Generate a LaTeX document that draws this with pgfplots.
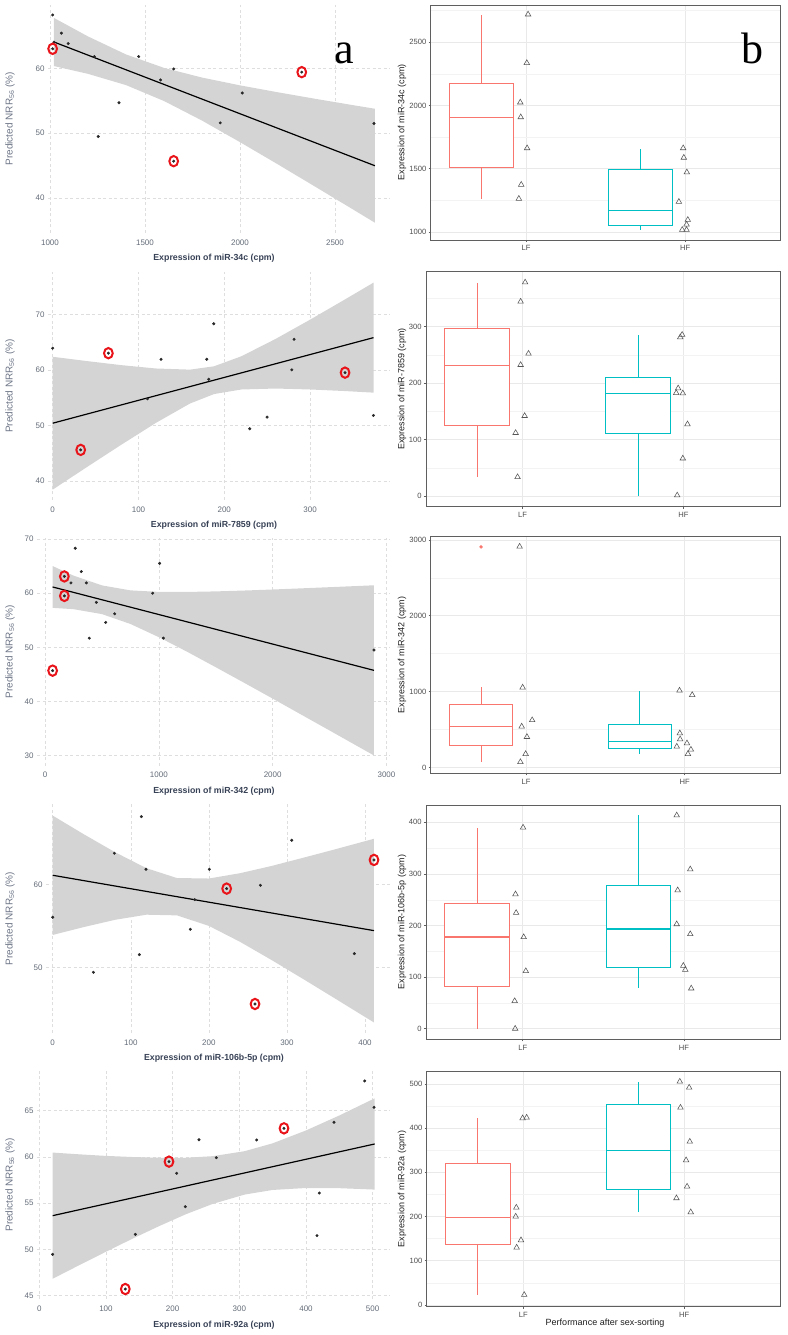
\documentclass[border=0pt]{standalone}
\usepackage{fontspec}
\setmainfont{Liberation Sans}
\newfontfamily\seriffont{Liberation Serif}
\usepackage{pgfplots}
\pgfplotsset{compat=1.18}
\definecolor{lfc}{HTML}{F8766D}
\definecolor{hfc}{HTML}{00BFC4}
\definecolor{ribbon}{RGB}{212,212,212}
\definecolor{lgrid}{RGB}{222,222,222}
\definecolor{ltick}{RGB}{100,108,120}
\definecolor{ltitle}{RGB}{55,65,85}
\definecolor{lylab}{RGB}{110,118,135}
\definecolor{dotc}{RGB}{40,40,40}
\definecolor{ringc}{RGB}{232,20,26}
\definecolor{frame}{RGB}{95,95,95}
\definecolor{rgrid}{RGB}{233,233,233}
\definecolor{rgridm}{RGB}{243,243,243}
\definecolor{rtick}{RGB}{77,77,77}
\definecolor{rtitle}{RGB}{30,30,30}
\definecolor{tric}{RGB}{85,85,85}

\pgfplotsset{
  base/.style={scale only axis, anchor=south west, clip=true,
    /pgf/number format/assume math mode=true,
    /pgf/number format/set thousands separator={},
    scaled ticks=false},
  leftp/.style={base,
    axis line style={draw=none}, tick style={draw=none}, major tick length=0pt,
    xmajorgrids, ymajorgrids,
    major grid style={draw=lgrid, line width=0.55pt, dash pattern=on 3pt off 2.5pt},
    tick label style={font=\fontsize{8}{9}\selectfont, text=ltick},
    xticklabel style={yshift=-3pt},
    xlabel style={font=\bfseries\fontsize{8.8}{10}\selectfont, text=ltitle, anchor=center, yshift=-25.5pt},
    ylabel style={font=\fontsize{10}{11}\selectfont, text=lylab, anchor=center},
    ylabel={Predicted NRR\textsubscript{56} (\%)},
  },
  rightp/.style={base,
    xmin=0.4, xmax=2.6, xtick={1,2}, xticklabels={LF,HF},
    axis line style={draw=frame, line width=0.6pt},
    tick style={draw=frame, line width=0.5pt},
    tick align=outside, major tick length=2.2pt, minor tick length=0pt,
    tick pos=left,
    xmajorgrids, ymajorgrids, yminorgrids,
    major grid style={draw=rgrid, line width=0.6pt},
    minor grid style={draw=rgridm, line width=0.35pt},
    tick label style={font=\fontsize{7.6}{9}\selectfont, text=rtick},
    yticklabel style={xshift=1.4pt},
    ylabel style={font=\fontsize{9}{10}\selectfont, text=rtitle, anchor=center},
  },
  ribbonp/.style={fill=ribbon, draw=none},
  linep/.style={black, line width=1.2pt},
  dotp/.style={only marks, mark=*, mark size=1.3pt, mark options={fill=dotc, draw=dotc}},
  ringp/.style={only marks, mark=o, mark size=5.2pt, mark options={draw=ringc, line width=2pt, xscale=0.84}},
  trip/.style={only marks, mark=triangle, mark size=3.2pt, mark options={draw=tric, line width=0.55pt, fill=none}},
}

% color, left, center, right, lo, q1, med, q3, hi
\newcommand{\gbox}[9]{%
  \addplot[#1, line width=0.75pt] coordinates {(#3,#5) (#3,#6)};
  \addplot[#1, line width=0.75pt] coordinates {(#3,#8) (#3,#9)};
  \addplot[#1, line width=0.75pt, fill=white] coordinates {(#2,#6) (#4,#6) (#4,#8) (#2,#8)} -- cycle;
  \addplot[#1, line width=1.3pt] coordinates {(#2,#7) (#4,#7)};
}

\begin{document}
\begin{tikzpicture}[x=1pt,y=1pt]
\useasboundingbox (0,0) rectangle (787,1335);

% ---------------- Row 1 ----------------
\begin{axis}[leftp, at={(48pt,1102pt)}, width=342pt, height=228.4pt,
  xmin=989.5, xmax=2789.5, ymin=34.65, ymax=69.8,
  xtick={1000,1500,2000,2500}, ytick={40,50,60},
  xlabel={Expression of miR-34c (cpm)},
  xlabel style={at={(axis description cs:0.4854,0)}},
  ylabel style={at={(axis description cs:-0.1111,0.5)}}]
\addplot[ribbonp] coordinates {(1020,67.76)(1200,64.90)(1400,62.13)(1600,60.06)(1800,58.57)(2000,57.37)(2200,56.30)(2400,55.28)(2600,54.30)(2710,53.77)
 (2710,36.23)(2600,38.18)(2400,41.70)(2200,45.20)(2000,48.63)(1800,51.95)(1600,54.96)(1400,57.41)(1200,59.14)(1020,60.34)} -- cycle;
\addplot[linep] coordinates {(1020,64.05)(2710,45.0)};
\addplot[dotp] coordinates {(1014,68.2)(1060,65.4)(1021,64.0)(1096,63.8)(1014,63.0)(1233,61.8)(1467,61.8)(1582,58.2)(1651,59.9)(1363,54.7)(1254,49.5)(1651,45.7)(1896,51.6)(2012,56.2)(2325,59.4)(2705,51.5)};
\addplot[ringp] coordinates {(1014,63.0)(1651,45.7)(2325,59.4)};
\end{axis}

\begin{axis}[rightp, at={(430.7pt,1095pt)}, width=350pt, height=235pt,
  ymin=935.5, ymax=2794.5, ytick={1000,1500,2000,2500}, minor ytick={1250,1750,2250,2750},
  ylabel={Expression of miR-34c (cpm)},
  ylabel style={at={(axis description cs:-0.0820,0.5)}}]
\gbox{lfc}{0.517}{0.717}{0.917}{1260}{1513}{1905}{2175}{2714}
\gbox{hfc}{1.517}{1.717}{1.917}{1016}{1051}{1170}{1495}{1656}
\addplot[trip] coordinates {(1.012,2720)(1.004,2336)(0.963,2024)(0.966,1907)(1.006,1662)(0.969,1373)(0.954,1262)};
\addplot[trip] coordinates {(1.987,1662)(1.991,1587)(2.010,1471)(1.960,1238)(2.016,1095)(2.008,1058)(1.981,1016)(2.008,1016)};
\end{axis}

% ---------------- Row 2 ----------------
\begin{axis}[leftp, at={(48pt,835.1pt)}, width=342pt, height=227.6pt,
  xmin=-5.5, xmax=393.2, ymin=36.6, ymax=77.56,
  xtick={0,100,200,300}, ytick={40,50,60,70},
  xlabel={Expression of miR-7859 (cpm)},
  xlabel style={at={(axis description cs:0.4854,0)}},
  ylabel style={at={(axis description cs:-0.1111,0.5)}}]
\addplot[ribbonp] coordinates {(0,62.35)(40,61.58)(80,60.85)(120,60.25)(160,60.04)(188,60.64)(220,62.45)(260,65.58)(300,69.03)(340,72.61)(374,75.70)
 (374,55.90)(340,56.19)(300,56.47)(260,56.64)(220,56.47)(188,55.64)(160,53.94)(120,50.43)(80,46.53)(40,42.52)(0,38.45)} -- cycle;
\addplot[linep] coordinates {(0,50.4)(374,65.8)};
\addplot[dotp] coordinates {(0,63.9)(64.9,63.0)(126.3,61.9)(179.6,61.9)(187.7,68.3)(181.9,58.3)(110.4,54.8)(32.6,45.6)(229.7,49.4)(249.9,51.5)(278.7,60.0)(281.4,65.5)(340.8,59.5)(373.9,51.8)};
\addplot[ringp] coordinates {(64.9,63.0)(32.6,45.6)(340.8,59.5)};
\end{axis}

\begin{axis}[rightp, at={(426pt,828.3pt)}, width=354pt, height=235pt,
  ymin=-18.9, ymax=396.9, ytick={0,100,200,300}, minor ytick={50,150,250,350},
  ylabel={Expression of miR-7859 (cpm)},
  ylabel style={at={(axis description cs:-0.0678,0.5)}}]
\gbox{lfc}{0.517}{0.717}{0.917}{34.1}{125.8}{231}{297}{376.4}
\gbox{hfc}{1.517}{1.717}{1.917}{0}{110.6}{181.8}{210.6}{284}
\addplot[trip] coordinates {(1.016,378)(0.988,344)(1.037,252)(0.988,232)(1.013,141.7)(0.957,111.7)(0.969,33.5)};
\addplot[trip] coordinates {(1.992,285.3)(1.980,281)(1.967,190.6)(1.955,182.3)(1.996,181.8)(2.025,127)(1.996,66.5)(1.961,1.2)};
\end{axis}

% ---------------- Row 3 ----------------
\begin{axis}[leftp, at={(37pt,569.2pt)}, width=353pt, height=227.9pt,
  xmin=-70.3, xmax=3030.8, ymin=28.13, ymax=70.21,
  xtick={0,1000,2000,3000}, ytick={30,40,50,60,70},
  xlabel={Expression of miR-342 (cpm)},
  xlabel style={at={(axis description cs:0.5014,0)}},
  ylabel style={at={(axis description cs:-0.0765,0.5)}}]
\addplot[ribbonp] coordinates {(67,65.01)(250,63.25)(500,61.44)(750,60.52)(1000,60.24)(1250,60.23)(1500,60.33)(1750,60.49)(2000,60.68)(2250,60.89)(2500,61.11)(2750,61.33)(2890,61.46)
 (2890,30.04)(2750,31.69)(2500,34.65)(2250,37.59)(2000,40.54)(1750,43.45)(1500,46.33)(1250,49.17)(1000,51.88)(750,54.32)(500,56.14)(250,57.05)(67,57.29)} -- cycle;
\addplot[linep] coordinates {(67,61.15)(2890,45.75)};
\addplot[dotp] coordinates {(266,68.3)(319,64.0)(170,63.1)(228,61.9)(363,61.9)(170,59.5)(451,58.3)(612,56.2)(533,54.6)(389,51.7)(67,45.7)(946,60.0)(1007,65.5)(1040,51.7)(2890,49.5)};
\addplot[ringp] coordinates {(170,63.1)(170,59.5)(67,45.7)};
\end{axis}

\begin{axis}[rightp, at={(430.7pt,561.7pt)}, width=349.3pt, height=236.6pt,
  ymin=-77, ymax=3042, ytick={0,1000,2000,3000}, minor ytick={500,1500,2500},
  ylabel={Expression of miR-342 (cpm)},
  ylabel style={at={(axis description cs:-0.0822,0.5)}}]
\gbox{lfc}{0.517}{0.717}{0.917}{72}{288}{540}{828}{1054}
\gbox{hfc}{1.517}{1.717}{1.917}{182}{252}{345}{567}{1009}
\addplot[only marks, mark=*, mark size=1.5pt, mark options={fill=lfc, draw=lfc}] coordinates {(0.717,2907)};
\addplot[trip] coordinates {(0.960,2912)(0.979,1054)(1.039,624)(0.973,540)(1.006,403)(0.998,178)(0.965,72)};
\addplot[trip] coordinates {(1.967,1014)(2.047,956)(1.969,451)(1.971,372)(1.950,275)(2.014,319)(2.039,235)(2.020,178)};
\end{axis}

% ---------------- Row 4 ----------------
\begin{axis}[leftp, at={(46pt,302pt)}, width=344pt, height=228.5pt,
  xmin=-8.6, xmax=432, ymin=42.16, ymax=69.57,
  xtick={0,100,200,300,400}, ytick={50,60},
  xlabel={Expression of miR-106b-5p (cpm)},
  xlabel style={at={(axis description cs:0.4884,0)}},
  ylabel style={at={(axis description cs:-0.1047,0.5)}}]
\addplot[ribbonp] coordinates {(0,68.24)(40,65.99)(80,63.84)(120,61.93)(159,60.75)(200,60.69)(240,61.33)(280,62.19)(320,63.16)(360,64.15)(411.5,65.46)
 (411.5,43.42)(360,46.39)(320,48.68)(280,50.93)(240,53.09)(200,55.01)(159,56.27)(120,56.35)(80,55.74)(40,54.87)(0,53.92)} -- cycle;
\addplot[linep] coordinates {(0,61.08)(411.5,54.44)};
\addplot[dotp] coordinates {(0,56.04)(52.1,49.44)(79,63.72)(113.6,68.12)(111,51.56)(119.5,61.8)(176.3,54.6)(181.9,58.16)(200.6,61.8)(222.8,59.48)(259.1,45.64)(266,59.88)(306.1,65.28)(386.3,51.68)(411.5,62.92)};
\addplot[ringp] coordinates {(222.8,59.48)(259.1,45.64)(411.5,62.92)};
\end{axis}

\begin{axis}[rightp, at={(426pt,295.7pt)}, width=354.7pt, height=234.3pt,
  ymin=-20.65, ymax=433.65, ytick={0,100,200,300,400}, minor ytick={50,150,250,350},
  ylabel={Expression of miR-106b-5p (cpm)},
  ylabel style={at={(axis description cs:-0.0677,0.5)}}]
\gbox{lfc}{0.517}{0.717}{0.917}{0}{82}{177.5}{242}{389}
\gbox{hfc}{1.517}{1.717}{1.917}{79}{118}{193}{277}{414}
\addplot[trip] coordinates {(1.002,390)(0.955,260.6)(0.959,224.5)(1.006,177.5)(1.019,111.7)(0.950,53.6)(0.953,0)};
\addplot[trip] coordinates {(1.955,413.6)(2.039,309)(1.961,268.4)(1.955,202.6)(2.039,183.3)(1.996,122)(2.008,114.2)(2.045,78)};
\end{axis}

% ---------------- Row 5 ----------------
\begin{axis}[leftp, at={(37pt,35.6pt)}, width=353pt, height=228.8pt,
  xmin=-3.45, xmax=526, ymin=44.6, ymax=69.33,
  xtick={0,100,200,300,400,500}, ytick={45,50,55,60,65},
  xlabel={Expression of miR-92a (cpm)},
  xlabel style={at={(axis description cs:0.5014,0)}},
  ylabel style={at={(axis description cs:-0.0765,0.5)}}]
\addplot[ribbonp] coordinates {(20,60.47)(60,60.28)(100,60.11)(140,59.99)(180,59.91)(220,59.91)(260,60.08)(308,60.62)(350,61.47)(400,62.86)(450,64.48)(503,66.33)
 (503,56.47)(450,56.62)(400,56.64)(350,56.43)(308,55.93)(260,54.92)(220,53.81)(180,52.53)(140,51.17)(100,49.75)(60,48.30)(20,46.83)} -- cycle;
\addplot[linep] coordinates {(20,53.65)(503,61.40)};
\addplot[dotp] coordinates {(20,49.47)(129,45.72)(144,51.63)(194.5,59.49)(206,58.23)(219,54.62)(239.5,61.86)(265.5,59.92)(326,61.83)(367,63.09)(416.5,51.49)(420,56.1)(442,63.74)(488,68.21)(502,65.36)};
\addplot[ringp] coordinates {(129,45.72)(194.5,59.49)(367,63.09)};
\end{axis}

\begin{axis}[rightp, at={(426.7pt,28.3pt)}, width=354pt, height=235.7pt,
  ymin=-4.25, ymax=529.25, ytick={0,100,200,300,400,500}, minor ytick={50,150,250,350,450},
  ylabel={Expression of miR-92a (cpm)},
  ylabel style={at={(axis description cs:-0.0698,0.5)}},
  xlabel={Performance after sex-sorting},
  xlabel style={font=\fontsize{9}{10}\selectfont, text=rtitle, at={(axis description cs:0.5037,0)}, anchor=center, yshift=-16.6pt}]
\gbox{lfc}{0.517}{0.717}{0.917}{22.6}{137.3}{198.4}{319.7}{423.8}
\gbox{hfc}{1.517}{1.717}{1.917}{209.7}{261}{349}{454.8}{505}
\addplot[trip] coordinates {(0.996,422.3)(1.021,423.8)(0.957,220.2)(0.953,199.9)(0.986,146.3)(0.959,129.7)(1.006,22.6)};
\addplot[trip] coordinates {(1.973,505.3)(2.031,491.7)(1.977,446.4)(2.035,369.5)(2.012,327.3)(2.018,267.7)(1.952,241.4)(2.041,209.7)};
\end{axis}

\node[font=\seriffont\fontsize{44}{48}\selectfont, anchor=base] at (344.5,1271.7) {a};
\node[font=\seriffont\fontsize{44}{48}\selectfont, anchor=base] at (752.7,1271.7) {b};
\end{tikzpicture}
\end{document}
